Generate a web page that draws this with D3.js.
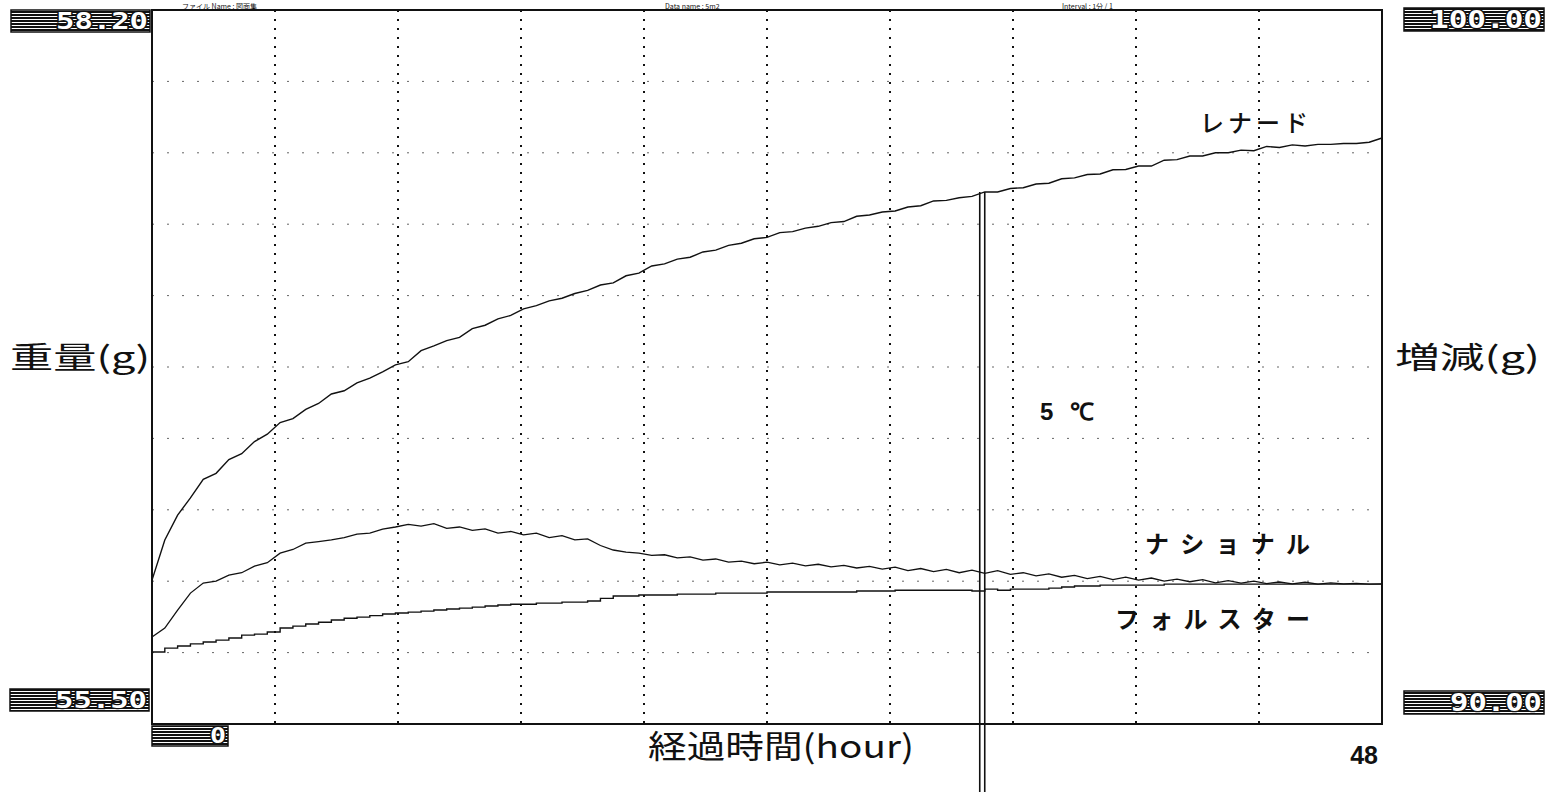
<!DOCTYPE html>
<html>
<head>
<meta charset="utf-8">
<script src="https://cdn.jsdelivr.net/npm/d3@7"></script>
<style>
  body { margin: 0; background: #fff; }
  svg { display: block; }
</style>
</head>
<body>
<svg id="chart" width="1547" height="792"></svg>
<script>
// sample times (hour)
const hours = [0, 0.5, 1, 1.5, 2, 2.5, 3, 3.5, 4, 4.5, 5, 5.5, 6, 6.5, 7, 7.5, 8, 8.5, 9, 9.5,
  10, 10.5, 11, 11.5, 12, 12.5, 13, 13.5, 14, 14.5, 15, 15.5, 16, 16.5, 17, 17.5, 18, 18.5, 19, 19.5,
  20, 20.5, 21, 21.5, 22, 22.5, 23, 23.5, 24, 24.5, 25, 25.5, 26, 26.5, 27, 27.5, 28, 28.5, 29, 29.5,
  30, 30.5, 31, 31.5, 32, 32.5, 33, 33.5, 34, 34.5, 35, 35.5, 36, 36.5, 37, 37.5, 38, 38.5, 39, 39.5,
  40, 40.5, 41, 41.5, 42, 42.5, 43, 43.5, 44, 44.5, 45, 45.5, 46, 46.5, 47, 47.5, 48];

// weight (g)
const renard = [56.044, 56.196, 56.290, 56.355, 56.425, 56.448, 56.500, 56.522, 56.568, 56.596,
  56.640, 56.655, 56.690, 56.712, 56.748, 56.760, 56.790, 56.808, 56.832, 56.858,
  56.870, 56.912, 56.930, 56.950, 56.962, 56.995, 57.008, 57.032, 57.045, 57.070,
  57.082, 57.100, 57.110, 57.128, 57.140, 57.160, 57.168, 57.195, 57.205, 57.232,
  57.240, 57.258, 57.265, 57.285, 57.292, 57.310, 57.318, 57.335, 57.340, 57.358,
  57.362, 57.375, 57.382, 57.396, 57.400, 57.420, 57.425, 57.436, 57.440, 57.455,
  57.460, 57.478, 57.480, 57.490, 57.495, 57.512, 57.512, 57.525, 57.528, 57.542,
  57.545, 57.562, 57.565, 57.578, 57.580, 57.596, 57.597, 57.610, 57.610, 57.632,
  57.634, 57.648, 57.648, 57.660, 57.660, 57.670, 57.668, 57.684, 57.680, 57.690,
  57.686, 57.692, 57.692, 57.695, 57.695, 57.700, 57.716];

const national = [55.829, 55.863, 55.931, 55.995, 56.033, 56.040, 56.063, 56.072, 56.097, 56.110,
  56.146, 56.160, 56.184, 56.190, 56.196, 56.205, 56.218, 56.222, 56.237, 56.245,
  56.255, 56.248, 56.258, 56.240, 56.245, 56.232, 56.238, 56.222, 56.228, 56.215,
  56.222, 56.205, 56.212, 56.196, 56.200, 56.175, 56.158, 56.150, 56.146, 56.138,
  56.140, 56.128, 56.132, 56.120, 56.124, 56.112, 56.116, 56.106, 56.112, 56.102,
  56.108, 56.098, 56.104, 56.094, 56.100, 56.090, 56.096, 56.086, 56.093, 56.080,
  56.088, 56.076, 56.085, 56.072, 56.082, 56.070, 56.080, 56.066, 56.072, 56.060,
  56.068, 56.055, 56.062, 56.050, 56.058, 56.046, 56.055, 56.044, 56.052, 56.040,
  56.048, 56.038, 56.046, 56.034, 56.042, 56.033, 56.040, 56.031, 56.037, 56.030,
  56.036, 56.029, 56.034, 56.030, 56.032, 56.029, 56.030];

const folstar = [55.772, 55.787, 55.795, 55.803, 55.810, 55.817, 55.825, 55.836, 55.840, 55.848,
  55.863, 55.870, 55.878, 55.885, 55.893, 55.900, 55.904, 55.910, 55.916, 55.920,
  55.923, 55.927, 55.931, 55.935, 55.938, 55.942, 55.946, 55.950, 55.953, 55.953,
  55.957, 55.957, 55.961, 55.961, 55.965, 55.975, 55.984, 55.984, 55.988, 55.988,
  55.988, 55.991, 55.991, 55.991, 55.995, 55.995, 55.995, 55.995, 55.999, 55.999,
  55.999, 55.999, 55.999, 55.999, 55.999, 56.003, 56.003, 56.003, 56.006, 56.006,
  56.006, 56.006, 56.006, 56.006, 56.003, 56.010, 56.006, 56.010, 56.010, 56.010,
  56.014, 56.018, 56.022, 56.022, 56.025, 56.025, 56.025, 56.025, 56.025, 56.029,
  56.029, 56.029, 56.029, 56.029, 56.029, 56.029, 56.029, 56.029, 56.029, 56.029,
  56.029, 56.029, 56.029, 56.029, 56.029, 56.029, 56.029];

const seriesNames = ['レナード', 'ナショナル', 'フォルスター'];
// label anchor: [hour, weight]
const seriesLabelPos = [[40.9, 57.739], [38.75, 56.146], [37.58, 55.863]];
const tempLabel = '5 ℃';
const tempLabelPos = [34.65, 56.649];

const gridHours = [4.8, 9.6, 14.4, 19.2, 24, 28.8, 33.6, 38.4, 43.2];
const gridWeights = [55.77, 56.04, 56.31, 56.58, 56.85, 57.12, 57.39, 57.66, 57.93];
const leftLabels = ['58.20', '55.50'];
const rightLabels = ['100.00', '90.00'];
const xStartLabel = '0';
const xEndLabel = '48';
const markerHour = 32.4;

const svg = d3.select('#chart');
const margin = { top: 10, right: 165, bottom: 68, left: 152 };
const width = 1547 - margin.left - margin.right;
const height = 792 - margin.top - margin.bottom;

const x = d3.scaleLinear().domain([0, 48]).range([0, width]);
const y = d3.scaleLinear().domain([55.50, 58.20]).range([height, 0]);

// striped fill for the little value boxes
const defs = svg.append('defs');
const pat = defs.append('pattern')
    .attr('id', 'stripes')
    .attr('patternUnits', 'userSpaceOnUse')
    .attr('width', 6).attr('height', 3);
pat.append('rect').attr('width', 6).attr('height', 3).attr('fill', '#111');
pat.append('rect').attr('y', 1).attr('width', 6).attr('height', 1).attr('fill', '#fff');

// header line above the frame (mostly cut off in the scan)
const header = svg.append('g')
    .attr('font-family', '"Noto Sans CJK JP", sans-serif')
    .attr('font-size', 7)
    .attr('fill', '#111');
header.append('text').attr('x', 182).attr('y', 8.6).text('ファイル Name : 図面集');
header.append('text').attr('x', 665).attr('y', 8.6).text('Data name : 5m2');
header.append('text').attr('x', 1062).attr('y', 8.6).text('Interval : 1分 / 1');

const g = svg.append('g')
    .attr('transform', `translate(${margin.left},${margin.top})`);

// Grid
g.selectAll('.hgrid')
    .data(gridWeights)
    .enter()
    .append('line')
    .attr('x1', 0).attr('x2', width)
    .attr('y1', d => y(d)).attr('y2', d => y(d))
    .attr('stroke', '#666')
    .attr('stroke-width', 1)
    .attr('stroke-dasharray', '2,13');

g.selectAll('.vgrid')
    .data(gridHours)
    .enter()
    .append('line')
    .attr('x1', d => x(d)).attr('x2', d => x(d))
    .attr('y1', 0).attr('y2', height)
    .attr('stroke', '#111')
    .attr('stroke-width', 2)
    .attr('stroke-dasharray', '2,7');

// Lines
const line = d3.line()
    .x((d, i) => x(hours[i]))
    .y(d => y(d));
const stepLine = d3.line()
    .x((d, i) => x(hours[i]))
    .y(d => y(d))
    .curve(d3.curveStepAfter);

g.append('path').datum(renard)
    .attr('d', line).attr('fill', 'none')
    .attr('stroke', '#111').attr('stroke-width', 1.4);
g.append('path').datum(national)
    .attr('d', line).attr('fill', 'none')
    .attr('stroke', '#111').attr('stroke-width', 1.3);
g.append('path').datum(folstar)
    .attr('d', stepLine).attr('fill', 'none')
    .attr('stroke', '#111').attr('stroke-width', 1.4);

// frame
g.append('rect')
    .attr('width', width).attr('height', height)
    .attr('fill', 'none')
    .attr('stroke', '#111')
    .attr('stroke-width', 2);

// double marker line
const markerTop = y(d3.max(renard.filter((d, i) => Math.abs(hours[i] - markerHour) <= 0.5)));
[-2.5, 2.5].forEach(off => {
    g.append('line')
        .attr('x1', x(markerHour) + off).attr('x2', x(markerHour) + off)
        .attr('y1', markerTop).attr('y2', 792 - margin.top)
        .attr('stroke', '#111').attr('stroke-width', 1.6);
});

// series labels
const labelWidths = [108, 165, 195];
g.selectAll('.series-label')
    .data(seriesNames)
    .enter()
    .append('text')
    .attr('x', (d, i) => x(seriesLabelPos[i][0]))
    .attr('y', (d, i) => y(seriesLabelPos[i][1]))
    .attr('textLength', (d, i) => labelWidths[i])
    .attr('lengthAdjust', 'spacing')
    .attr('font-family', '"Noto Sans CJK JP", sans-serif')
    .attr('font-size', 24)
    .attr('font-weight', (d, i) => i === 0 ? 500 : 700)
    .attr('fill', '#111')
    .text(d => d);

g.append('text')
    .attr('x', x(tempLabelPos[0]))
    .attr('y', y(tempLabelPos[1]))
    .attr('textLength', 54).attr('lengthAdjust', 'spacing')
    .attr('font-family', '"Liberation Sans", Arial, sans-serif')
    .attr('font-size', 24)
    .attr('font-weight', 700)
    .attr('fill', '#111')
    .text(tempLabel);

// axis titles
const titleFont = '"Noto Sans CJK JP", sans-serif';
svg.append('text')
    .attr('x', 10).attr('y', 368)
    .attr('textLength', 140).attr('lengthAdjust', 'spacingAndGlyphs')
    .attr('font-family', titleFont).attr('font-size', 30).attr('font-weight', 400)
    .attr('fill', '#111')
    .text('重量(g)');
svg.append('text')
    .attr('x', 1395).attr('y', 368)
    .attr('textLength', 145).attr('lengthAdjust', 'spacingAndGlyphs')
    .attr('font-family', titleFont).attr('font-size', 30).attr('font-weight', 400)
    .attr('fill', '#111')
    .text('増減(g)');
svg.append('text')
    .attr('x', 648).attr('y', 758)
    .attr('textLength', 266).attr('lengthAdjust', 'spacingAndGlyphs')
    .attr('font-family', titleFont).attr('font-size', 32).attr('font-weight', 400)
    .attr('fill', '#111')
    .text('経過時間(hour)');

svg.append('text')
    .attr('x', margin.left + x(48) - 4).attr('y', 764)
    .attr('text-anchor', 'end')
    .attr('font-family', '"Liberation Sans Narrow", "Liberation Sans", sans-serif')
    .attr('font-size', 25)
    .attr('font-weight', 700)
    .attr('fill', '#111')
    .text(xEndLabel);

// value boxes
function valueBox(bx, by, bw, bh, txt, textW) {
    svg.append('rect')
        .attr('x', bx).attr('y', by)
        .attr('width', bw).attr('height', bh)
        .attr('fill', 'url(#stripes)')
        .attr('stroke', '#111').attr('stroke-width', 1.5);
    svg.append('text')
        .attr('x', bx + bw - 2 - textW).attr('y', by + bh - 3)
        .attr('textLength', textW).attr('lengthAdjust', 'spacingAndGlyphs')
        .attr('font-family', '"DejaVu Sans Mono", monospace')
        .attr('font-size', bh + 1)
        .attr('font-weight', 700)
        .attr('fill', '#fff')
        .attr('stroke', '#111').attr('stroke-width', 2.5)
        .attr('paint-order', 'stroke')
        .text(txt);
}
valueBox(11, 10, 139, 22, leftLabels[0], 92);
valueBox(10, 689, 139, 22, leftLabels[1], 92);
valueBox(1404, 8, 140, 23, rightLabels[0], 112);
valueBox(1404, 691, 140, 23, rightLabels[1], 92);
valueBox(margin.left + x(0), 726, 76, 20, xStartLabel, 16);
</script>
</body>
</html>
